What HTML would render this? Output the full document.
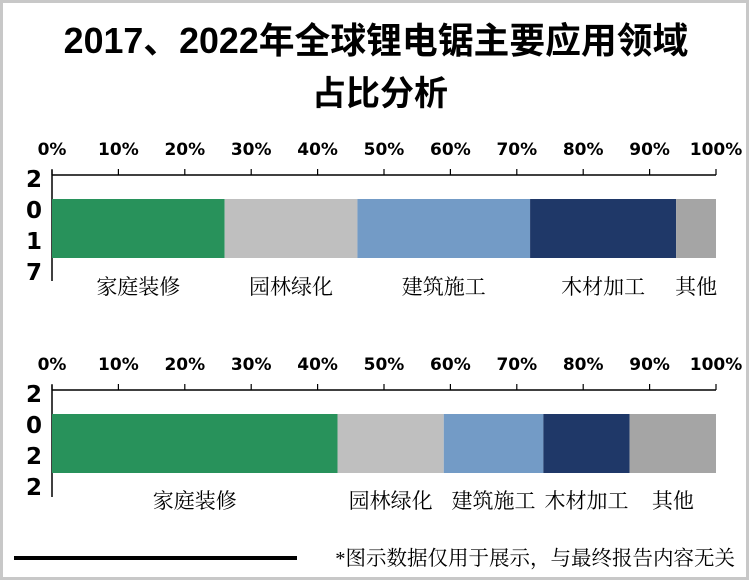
<!DOCTYPE html>
<html><head><meta charset="utf-8"><style>
body{margin:0;background:#fff}
svg{display:block}
.t{font-family:"Liberation Sans","Noto Sans CJK SC",sans-serif;font-weight:bold}
.d{font-family:"DejaVu Sans","Liberation Sans",sans-serif;font-weight:bold}
.c{font-family:"Liberation Serif","Noto Serif CJK SC",serif}
</style></head><body>
<svg id="chart" width="752" height="583">
<rect x="1.5" y="1.5" width="746" height="577" fill="#fff" stroke="#c8c8c8" stroke-width="3"/>
<text class="t" x="376" y="53" font-size="35.8" text-anchor="middle">2017、2022年全球锂电锯主要应用领域</text>
<text class="t" x="380" y="105" font-size="34" text-anchor="middle">占比分析</text>
<g id="plots"></g>
<line x1="14" y1="558" x2="297" y2="558" stroke="#000" stroke-width="4"/>
<text class="c" x="735" y="565" font-size="20.5" text-anchor="end">*图示数据仅用于展示，与最终报告内容无关</text>
</svg>
<script>
const categories=["家庭装修","园林绿化","建筑施工","木材加工","其他"];
const years=["2017","2022"];
const values2017=[26,20,26,22,6];
const values2022=[43,16,15,13,13];
const ticks=[0,10,20,30,40,50,60,70,80,90,100];
const colors=["#28925b","#bfbfbf","#739bc6","#1f3868","#a5a5a5"];
const ns="http://www.w3.org/2000/svg";
const g=document.getElementById("plots");
const X0=52,X1=716;
function xs(v){return X0+(X1-X0)*v/100;}
function mk(tag,attrs,parent){const e=document.createElementNS(ns,tag);for(const k in attrs)e.setAttribute(k,attrs[k]);(parent||g).appendChild(e);return e;}
const panels=[{year:years[0],vals:values2017,axisY:175,barY:199,labY:294,vEnd:281},{year:years[1],vals:values2022,axisY:390,barY:414,labY:508,vEnd:497}];
panels.forEach((p,pi)=>{
  const grp=mk("g",{});
  
  
  const ax=mk("line",{x1:X0,y1:p.axisY,x2:X1,y2:p.axisY,stroke:"#000","stroke-width":1.5},grp);
  
  
  const va=mk("line",{x1:X0,y1:p.axisY-5,x2:X0,y2:p.vEnd,stroke:"#000","stroke-width":1.5},grp);
  
  
  ticks.forEach(t=>{
    const tk=mk("line",{x1:xs(t),y1:p.axisY-6,x2:xs(t),y2:p.axisY,stroke:"#000","stroke-width":1.2},grp);
    
    
    const tl=mk("text",{x:xs(t),y:p.axisY-20,"font-size":17,"text-anchor":"middle",class:"d"},grp);
    tl.textContent=t+"%";
    
    
  });
  p.year.split("").forEach((d,i)=>{
    const yt=mk("text",{x:34,y:p.axisY+12+i*31,"font-size":23,"text-anchor":"middle",class:"d"},grp);
    yt.textContent=d;
    
    
  });
  let acc=0;
  p.vals.forEach((v,i)=>{
    const r=mk("rect",{x:xs(acc),y:p.barY,width:xs(acc+v)-xs(acc),height:59,fill:colors[i]},grp);
    
    
    const lb=mk("text",{x:(xs(acc)+xs(acc+v))/2,y:p.labY,"font-size":21,"text-anchor":"middle",class:"c"},grp);
    lb.textContent=categories[i];
    
    
    acc+=v;
  });
});
</script>
</body></html>
